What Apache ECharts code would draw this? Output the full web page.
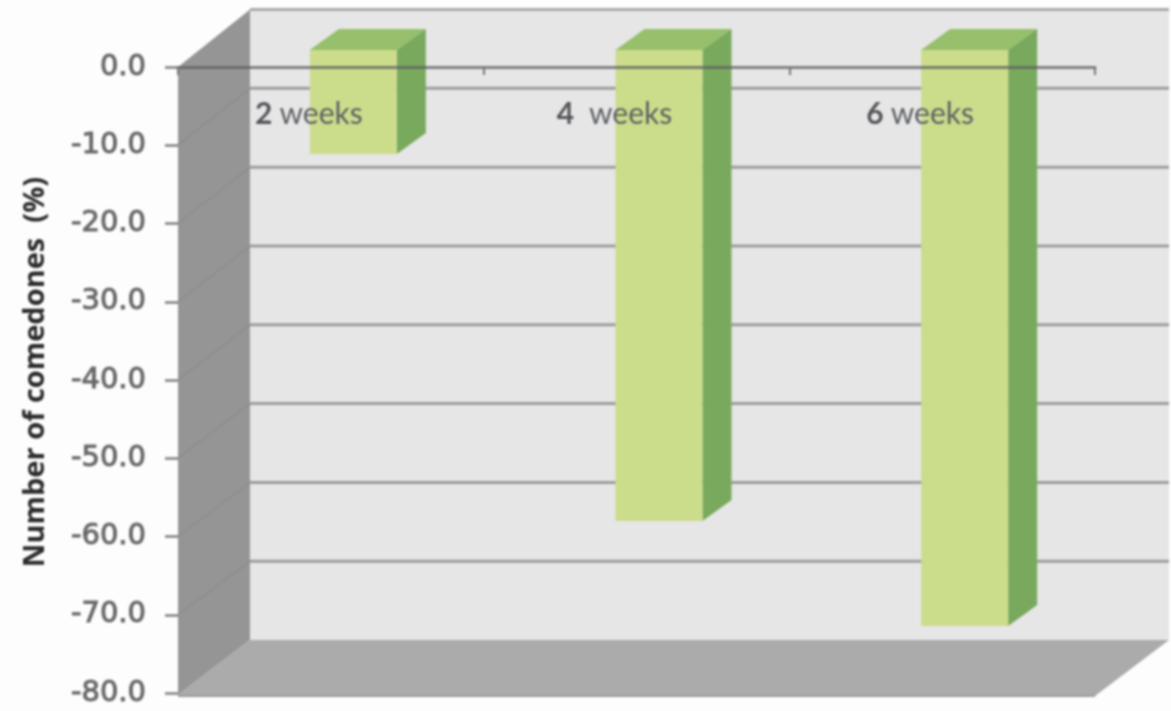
<!DOCTYPE html>
<html><head><meta charset="utf-8">
<style>html,body{margin:0;padding:0;background:#fdfdfd}#c{width:1171px;height:711px;filter:blur(0.9px)}</style>
<script src="https://cdn.jsdelivr.net/npm/echarts@6/dist/echarts.min.js"></script>
</head><body><div id="c"></div>
<script>
const categories = ['2 weeks', '4  weeks', '6 weeks'];
const comedones = [-13.3, -60.2, -73.6];
const yMin = -80, yMax = 0, yStep = 10;
const wallLevels = [0, -10, -20, -30, -40, -50, -60, -70, -80];

const DEPTH_X = 72, BACK_TOP = 9.5, BACK_BOTTOM = 640, WALL_RIGHT = 1169;
const BAR_W = 87, BAR_DX = 22.5, BAR_DY = -17, BAR_DEPTH_X = 29, BAR_DEPTH_Y = -21;
const poly = (points, fill, extra) => Object.assign({type: 'polygon', shape: {points}, style: {fill}}, extra || {});
const line = (x1, y1, x2, y2, stroke, w) => ({type: 'line', shape: {x1, y1, x2, y2}, style: {stroke, lineWidth: w}});

function renderRoom(params, api) {
  const g = params.coordSys, L = g.x, R = g.x + g.width, T = g.y, B = g.y + g.height;
  const bl = L + DEPTH_X;
  const backY = v => { const y = api.coord([0, v])[1]; return BACK_TOP + (y - T) / (B - T) * (BACK_BOTTOM - BACK_TOP); };
  const kids = [
    poly([[bl, BACK_TOP], [WALL_RIGHT, BACK_TOP], [WALL_RIGHT, BACK_BOTTOM], [bl, BACK_BOTTOM]], '#e6e6e7'),
    poly([[L, T], [bl, BACK_TOP], [bl, BACK_BOTTOM], [L, B + 2]], '#959596'),
    poly([[L, B + 2], [bl, BACK_BOTTOM], [WALL_RIGHT, BACK_BOTTOM], [R, B + 3]], '#acabac'),
    line(L, B + 3, R, B + 3, '#9c9c9d', 2),
    line(bl, BACK_TOP, WALL_RIGHT, BACK_TOP, '#a9a9aa', 3)
  ];
  wallLevels.forEach(v => {
    if (v === yMin || v === yMax) return;
    const y = api.coord([0, v])[1], by = backY(v);
    kids.push(line(L, y, bl, by, '#8b8b8c', 1.2));
    kids.push(line(bl, by, WALL_RIGHT, by, '#9d9d9e', 3));
  });
  return {type: 'group', children: kids};
}

function renderBar(params, api) {
  const p = api.coord([api.value(0), api.value(1)]);
  const z = api.coord([api.value(0), 0]);
  const x0 = p[0] + BAR_DX - BAR_W / 2, x1 = x0 + BAR_W;
  const t = z[1] + BAR_DY, b = p[1] + BAR_DY;
  const dx = BAR_DEPTH_X, dy = BAR_DEPTH_Y;
  return {type: 'group', children: [
    poly([[x0, t], [x1, t], [x1 + dx, t + dy], [x0 + dx, t + dy]], '#96c06b'),
    poly([[x1, t], [x1 + dx, t + dy], [x1 + dx, b + dy], [x1, b]], '#79a95c'),
    poly([[x0, t], [x1, t], [x1, b], [x0, b]], '#cbdc8b')
  ]};
}

const chart = echarts.init(document.getElementById('c'), null, {renderer: 'canvas'});
chart.setOption({
  animation: false,
  backgroundColor: '#fdfdfd',
  grid: {left: 178, top: 67, width: 917, height: 626, containLabel: false, outerBoundsMode: 'none'},
  xAxis: {
    type: 'category', data: categories, position: 'top', z: 10,
    axisLine: {onZero: false, lineStyle: {color: 'rgba(95,95,97,0.75)', width: 3}},
    axisTick: {show: true, inside: true, alignWithLabel: false, length: 8, lineStyle: {color: '#77777a', width: 2}},
    axisLabel: {
      inside: true, margin: 32, padding: [0, 44, 0, 0], interval: 0,
      formatter: s => { const i = s.indexOf(' '); return '{b|' + s.slice(0, i) + '}{w|' + s.slice(i).replace(/ /g, '\u00a0') + '}'; },
      rich: {
        b: {fontFamily: 'Lato', fontWeight: 'bold', fontSize: 30, color: '#55565a'},
        w: {fontFamily: 'Lato', fontSize: 30, color: '#5f6163'}
      }
    },
    splitLine: {show: false}
  },
  yAxis: {
    type: 'value', min: yMin, max: yMax, interval: yStep, z: 9,
    name: 'Number of comedones  (%)', nameLocation: 'middle', nameRotate: 90, nameGap: 128,
    nameTextStyle: {fontFamily: 'Open Sans', fontWeight: 'bold', fontSize: 29, color: '#2c2c2e', padding: [0, 0, 0, 16]},
    axisLine: {show: false},
    axisTick: {show: true, length: 13, lineStyle: {color: '#808082', width: 2.5}},
    axisLabel: {
      margin: 32, padding: [7, 0, 0, 0], fontFamily: 'DejaVu Sans', fontSize: 29, color: '#68696b',
      textBorderColor: '#68696b', textBorderWidth: 1,
      formatter: v => v.toFixed(1)
    },
    splitLine: {show: false}
  },
  series: [
    {type: 'custom', z: 1, silent: true, clip: false, renderItem: renderRoom, data: [[0, 0]], encode: {x: 0, y: 1}},
    {type: 'custom', z: 2, clip: false, renderItem: renderBar,
     data: categories.map((c, i) => [i, comedones[i]]), encode: {x: 0, y: 1}}
  ]
});
</script></body></html>
